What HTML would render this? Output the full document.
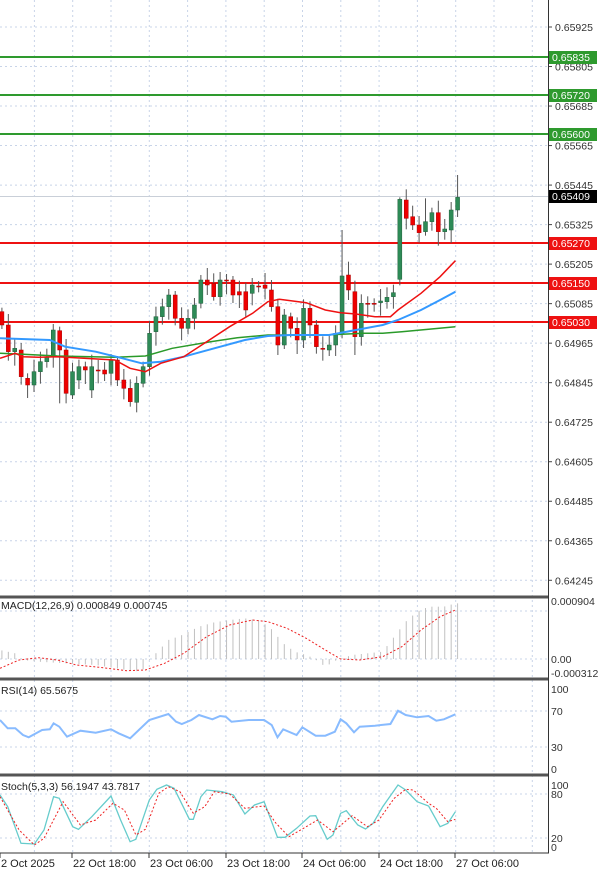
<!DOCTYPE html>
<html><head><meta charset="utf-8"><style>
html,body{margin:0;padding:0;background:#fff}
svg{display:block;font-family:"Liberation Sans",sans-serif}
</style></head><body>
<svg id="s" width="600" height="874" xmlns="http://www.w3.org/2000/svg"></svg>
<script>
const S=document.getElementById('s');let h='';
const X=zx=>zx/2.613;
// grid verticals
for(let k=0;k<14;k++){const x=34.4+k*38.3;if(x<548)h+=`<line x1="${x}" y1="0" x2="${x}" y2="853" stroke="#c8d4e8" stroke-dasharray="2,3" stroke-width="1"/>`;}
// main price grid + labels
const labs=['0.65925','0.65805','0.65685','0.65565','0.65445','0.65325','0.65205','0.65085','0.64965','0.64845','0.64725','0.64605','0.64485','0.64365','0.64245'];
labs.forEach((l,i)=>{const y=27+i*39.52;h+=`<line x1="0" y1="${y}" x2="548" y2="${y}" stroke="#c8d4e8" stroke-dasharray="2,3"/>`;h+=`<line x1="548" y1="${y}" x2="552" y2="${y}" stroke="#444"/><text x="555" y="${y+4}" font-size="10.5" fill="#333">${l}</text>`;});
// sub grids
[[611,'#c8d4e8'],[659,'#c8d4e8'],[711,'#c8d4e8'],[747,'#c8d4e8'],[794,'#c8d4e8'],[838,'#c8d4e8']].forEach(a=>h+=`<line x1="0" y1="${a[0]}" x2="548" y2="${a[0]}" stroke="${a[1]}" stroke-dasharray="2,3"/>`);
// current price line
h+=`<line x1="0" y1="196.5" x2="548" y2="196.5" stroke="#c9cfd8"/>`;
// horizontal levels
[[57,'#2e9a2e','0.65835'],[95,'#2e9a2e','0.65720'],[134,'#2e9a2e','0.65600'],[243,'#ee1111','0.65270'],[283,'#ee1111','0.65150'],[322,'#ee1111','0.65030']].forEach(a=>{
h+=`<line x1="0" y1="${a[0]}" x2="548" y2="${a[0]}" stroke="${a[1]}" stroke-width="2"/>`;
h+=`<rect x="549" y="${a[0]-6}" width="48" height="13" fill="${a[1]}"/><text x="552" y="${a[0]+4}" font-size="10.5" fill="#fff">${a[2]}</text>`;});
h+=`<rect x="549" y="190" width="48" height="13" fill="#000"/><text x="552" y="200" font-size="10.5" fill="#fff">0.65409</text>`;
// candles [open,close] zoom y
const C=[[425,465],[465,545],[545,535],[540,620],[625,645],[645,605],[605,575],[575,560],[560,480],[482,540],[540,670],[675,605],[630,590],[590,600],[660,590],[600,601],[600,612],[610,570],[570,630],[630,655],[655,695],[697,640],[640,590],[590,490],[485,440],[440,410],[410,375],[375,445],[445,475],[475,445],[445,405],[400,330],[330,345],[340,380],[380,330],[330,331],[330,375],[365,375],[365,420],[370,345],[348,349],[345,355],[360,410],[410,525],[525,435],[440,475],[475,510],[510,415],[415,465],[465,530],[535,536],[540,525],[525,490],[490,318],[315,360],[365,500],[500,400],[400,401],[400,401],[398,393],[395,382],[380,368],[328,88],[90,145],[140,165],[165,188],[185,155],[155,128],[128,185],[185,177],[180,120],[120,82]];
const HI={53:180,54:275,62:82,63:58,66:85,71:15,10:700,9:700,55:555};
C.forEach((c,i)=>{const x=X(5+i*16.77);const o=170+c[0]/3,cl=170+c[1]/3;const top=Math.min(o,cl),bot=Math.max(o,cl);
let hi=top-4-(i*7%9),lo=bot+4+(i*5%11);if(HI[i]!==undefined){const v=170+HI[i]/3;if(v<top)hi=v;else lo=v;}
const up=cl<o;const col=up?'#2e8b57':'#e00';
h+=`<line x1="${x}" y1="${hi}" x2="${x}" y2="${lo}" stroke="#555" stroke-width="1"/>`;
h+=`<rect x="${x-2}" y="${top}" width="4" height="${Math.max(bot-top,1)}" fill="${col}" stroke="${up?'#1f5f3a':'#a00'}" stroke-width="0.5"/>`;});
function pl(pts,oy,col,w,dash){return `<polyline fill="none" stroke="${col}" stroke-width="${w}" ${dash?'stroke-dasharray="'+dash+'"':''} points="${pts.map(p=>X(p[0]).toFixed(1)+','+(oy+p[1]/3).toFixed(1)).join(' ')}"/>`;}
h+=pl([[0,550],[60,553],[150,558],[300,562],[380,558],[450,535],[550,515],[620,503],[700,495],[850,495],[950,490],[1000,490],[1050,485],[1190,470]],170,'#2a9a2a',1.5);
h+=pl([[0,505],[130,510],[170,530],[250,545],[320,565],[370,580],[420,575],[480,560],[560,535],[640,510],[700,498],[760,495],[860,495],[930,480],[1000,465],[1040,450],[1100,420],[1150,390],[1190,365]],170,'#3399ff',2);
h+=pl([[0,565],[40,550],[60,560],[100,562],[150,560],[300,570],[340,595],[380,605],[420,580],[480,560],[540,515],[600,470],[660,430],[700,395],[730,388],[800,398],[850,420],[890,428],[930,432],[980,440],[1020,440],[1040,420],[1100,370],[1150,320],[1190,272]],170,'#ee1111',1.5);
// MACD hist
const mh=[[0,180],[40,190],[60,210],[100,215],[170,220],[250,225],[330,240],[370,245],[390,210],[420,175],[440,150],[470,138],[520,110],[560,97],[600,90],[640,85],[680,92],[710,118],[740,160],[770,185],[800,195],[820,205],[850,230],[880,210],[920,195],[960,190],[1000,185],[1040,125],[1060,95],[1090,65],[1120,50],[1160,50],[1190,40]];
function interp(a,x){for(let i=0;i<a.length-1;i++)if(x>=a[i][0]&&x<=a[i+1][0]){const t=(x-a[i][0])/(a[i+1][0]-a[i][0]);return a[i][1]+t*(a[i+1][1]-a[i][1]);}return a[a.length-1][1];}
for(let i=0;i<72;i++){const zx=5+i*16.77;const y=590+interp(mh,zx)/3;h+=`<line x1="${X(zx)}" y1="659" x2="${X(zx)}" y2="${y}" stroke="#c0c0c0" stroke-width="1"/>`;}
h+=pl([[0,235],[50,210],[100,203],[150,210],[200,225],[260,232],[330,242],[380,240],[430,220],[480,190],[540,140],[600,105],[660,90],[700,95],[750,115],[800,145],[850,180],[890,207],[940,210],[1000,200],[1050,170],[1100,120],[1150,80],[1190,60]],590,'#ee2222',1,'2,2');
h+=pl([[0,390],[20,415],[40,415],[60,435],[75,442],[110,420],[130,418],[140,400],[155,410],[175,440],[210,422],[250,428],[290,418],[310,430],[340,445],[390,390],[440,372],[460,395],[475,402],[500,390],[520,375],[555,388],[575,378],[590,380],[605,395],[650,390],[690,390],[710,405],[725,442],[740,418],[775,435],[790,412],[825,437],[850,437],[875,425],[890,388],[905,400],[925,427],[940,410],[980,407],[1020,402],[1040,362],[1060,375],[1090,382],[1120,378],[1140,392],[1160,388],[1190,373]],590,'#88bbff',2);
h+=pl([[0,615],[20,650],[55,760],[90,762],[115,720],[140,620],[155,625],[190,710],[205,718],[240,680],[290,618],[315,690],[340,755],[355,748],[390,630],[410,598],[435,585],[455,595],[495,688],[505,688],[525,620],[540,600],[580,605],[610,615],[640,672],[665,645],[690,635],[725,742],[745,742],[775,715],[810,678],[825,677],[855,748],[870,735],[890,670],[905,662],[935,705],[955,717],[975,700],[1000,650],[1040,585],[1060,600],[1090,635],[1120,648],[1150,710],[1170,700],[1190,665]],590,'#66cccc',1.3);
h+=pl([[0,620],[50,720],[90,765],[115,745],[165,635],[210,705],[250,690],[295,640],[325,660],[355,735],[380,718],[415,610],[440,590],[470,605],[505,670],[535,650],[560,605],[600,612],[640,655],[690,648],[720,698],[755,740],[800,710],[830,690],[870,725],[920,677],[960,710],[990,690],[1030,625],[1060,598],[1080,600],[1120,640],[1140,655],[1170,695],[1190,688]],590,'#ee2222',1,'2,2');
// separators & axis
[597,679,775].forEach(y=>h+=`<rect x="0" y="${y-1.5}" width="548" height="3" fill="#555"/>`);
h+=`<line x1="548.5" y1="0" x2="548.5" y2="853" stroke="#333"/><line x1="0" y1="853" x2="549" y2="853" stroke="#333"/>`;
const sl=[[605,'0.000904'],[663,'0.00'],[677,'-0.000312'],[693,'100'],[715,'70'],[751,'30'],[773,'0'],[789,'100'],[798,'80'],[842,'20'],[851,'0']];
sl.forEach(a=>h+=`<text x="551" y="${a[0]}" font-size="10.5" fill="#333">${a[1]}</text>`);
h+=`<text x="1" y="609" font-size="10.5" fill="#222">MACD(12,26,9) 0.000849 0.000745</text>`;
h+=`<text x="1" y="694" font-size="10.5" fill="#222">RSI(14) 65.5675</text>`;
h+=`<text x="1" y="790" font-size="10.5" fill="#222">Stoch(5,3,3) 56.1947 43.7817</text>`;
const tl=[[0,'2 Oct 2025'],[72,'22 Oct 18:00'],[149,'23 Oct 06:00'],[226,'23 Oct 18:00'],[302,'24 Oct 06:00'],[379,'24 Oct 18:00'],[455,'27 Oct 06:00']];
tl.forEach(a=>{h+=`<line x1="${a[0]}" y1="853" x2="${a[0]}" y2="858" stroke="#333"/><text x="${a[0]+1}" y="867" font-size="11" fill="#222">${a[1]}</text>`;});
S.innerHTML=h;
</script>
</body></html>
